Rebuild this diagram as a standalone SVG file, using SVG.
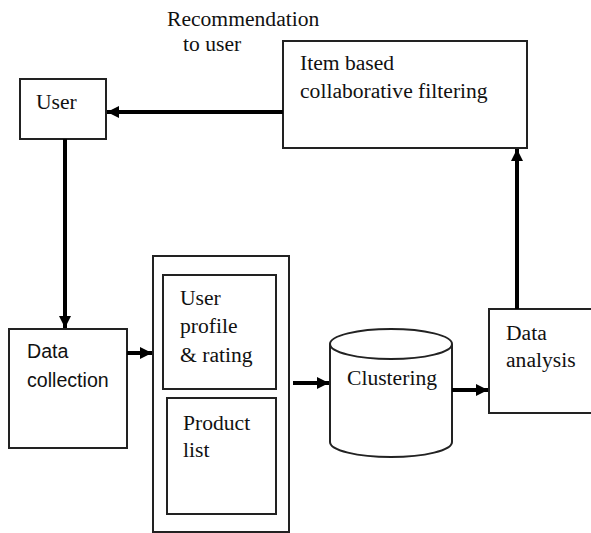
<svg xmlns="http://www.w3.org/2000/svg" width="591" height="533" viewBox="0 0 591 533">
<defs>
<marker id="ah" viewBox="0 0 12 12" refX="12" refY="6" markerWidth="12" markerHeight="12" markerUnits="userSpaceOnUse" orient="auto">
<path d="M0,0 L12,6 L0,12 Z" fill="#000"/>
</marker>
</defs>
<style>
.box{fill:#fff;stroke:#222;stroke-width:2}
.t{font-size:21.6px;fill:#111}
.s{font-size:19.6px;fill:#111}
.c{fill:none;stroke:#000;stroke-width:4}
</style>
<rect width="591" height="533" fill="#fff"/>
<g font-family="Liberation Serif, Times New Roman, serif">
<g id="label-recommendation">
<text class="t" x="167" y="26">Recommendation</text>
<text class="t" x="183" y="51">to user</text>
</g>
<g id="user">
<rect class="box" x="20" y="79" width="86" height="60"/>
<text class="t" x="36" y="109">User</text>
</g>
<g id="item-cf">
<rect class="box" x="283" y="41" width="244" height="107"/>
<text class="t" x="300" y="70">Item based</text>
<text class="t" x="300" y="98">collaborative filtering</text>
</g>
<g id="data-collection">
<rect class="box" x="9" y="329" width="118" height="119"/>
<text class="s" x="27" y="358" font-family="Liberation Sans, Arial, sans-serif">Data</text>
<text class="s" x="27" y="387" font-family="Liberation Sans, Arial, sans-serif">collection</text>
</g>
<g id="store">
<rect class="box" x="153" y="256" width="136" height="276"/>
<g id="user-profile">
<rect class="box" x="163" y="275" width="113" height="114"/>
<text class="t" x="180" y="305">User</text>
<text class="t" x="180" y="333">profile</text>
<text class="t" x="180" y="362">&amp; rating</text>
</g>
<g id="product-list">
<rect class="box" x="167" y="398" width="109" height="116"/>
<text class="t" x="183" y="430">Product</text>
<text class="t" x="183" y="457">list</text>
</g>
</g>
<g id="clustering">
<path class="box" d="M330,344 L330,442 A61,15 0 0 0 452,442 L452,344"/>
<ellipse class="box" cx="391" cy="344" rx="61" ry="15"/>
<text class="t" x="347" y="385">Clustering</text>
</g>
<g id="data-analysis">
<rect class="box" x="489" y="309" width="115" height="104"/>
<text class="t" x="506" y="340">Data</text>
<text class="t" x="506" y="367">analysis</text>
</g>
</g>
<g id="connectors">
<line class="c" x1="283" y1="112" x2="107" y2="112" marker-end="url(#ah)"/>
<line class="c" x1="65" y1="139" x2="65" y2="328" marker-end="url(#ah)"/>
<line class="c" x1="127" y1="353" x2="152" y2="353" marker-end="url(#ah)"/>
<line class="c" x1="293" y1="383" x2="329" y2="383" marker-end="url(#ah)"/>
<line class="c" x1="452" y1="390" x2="488" y2="390" marker-end="url(#ah)"/>
<line class="c" x1="517" y1="309" x2="517" y2="149" marker-end="url(#ah)"/>
</g>
</svg>
